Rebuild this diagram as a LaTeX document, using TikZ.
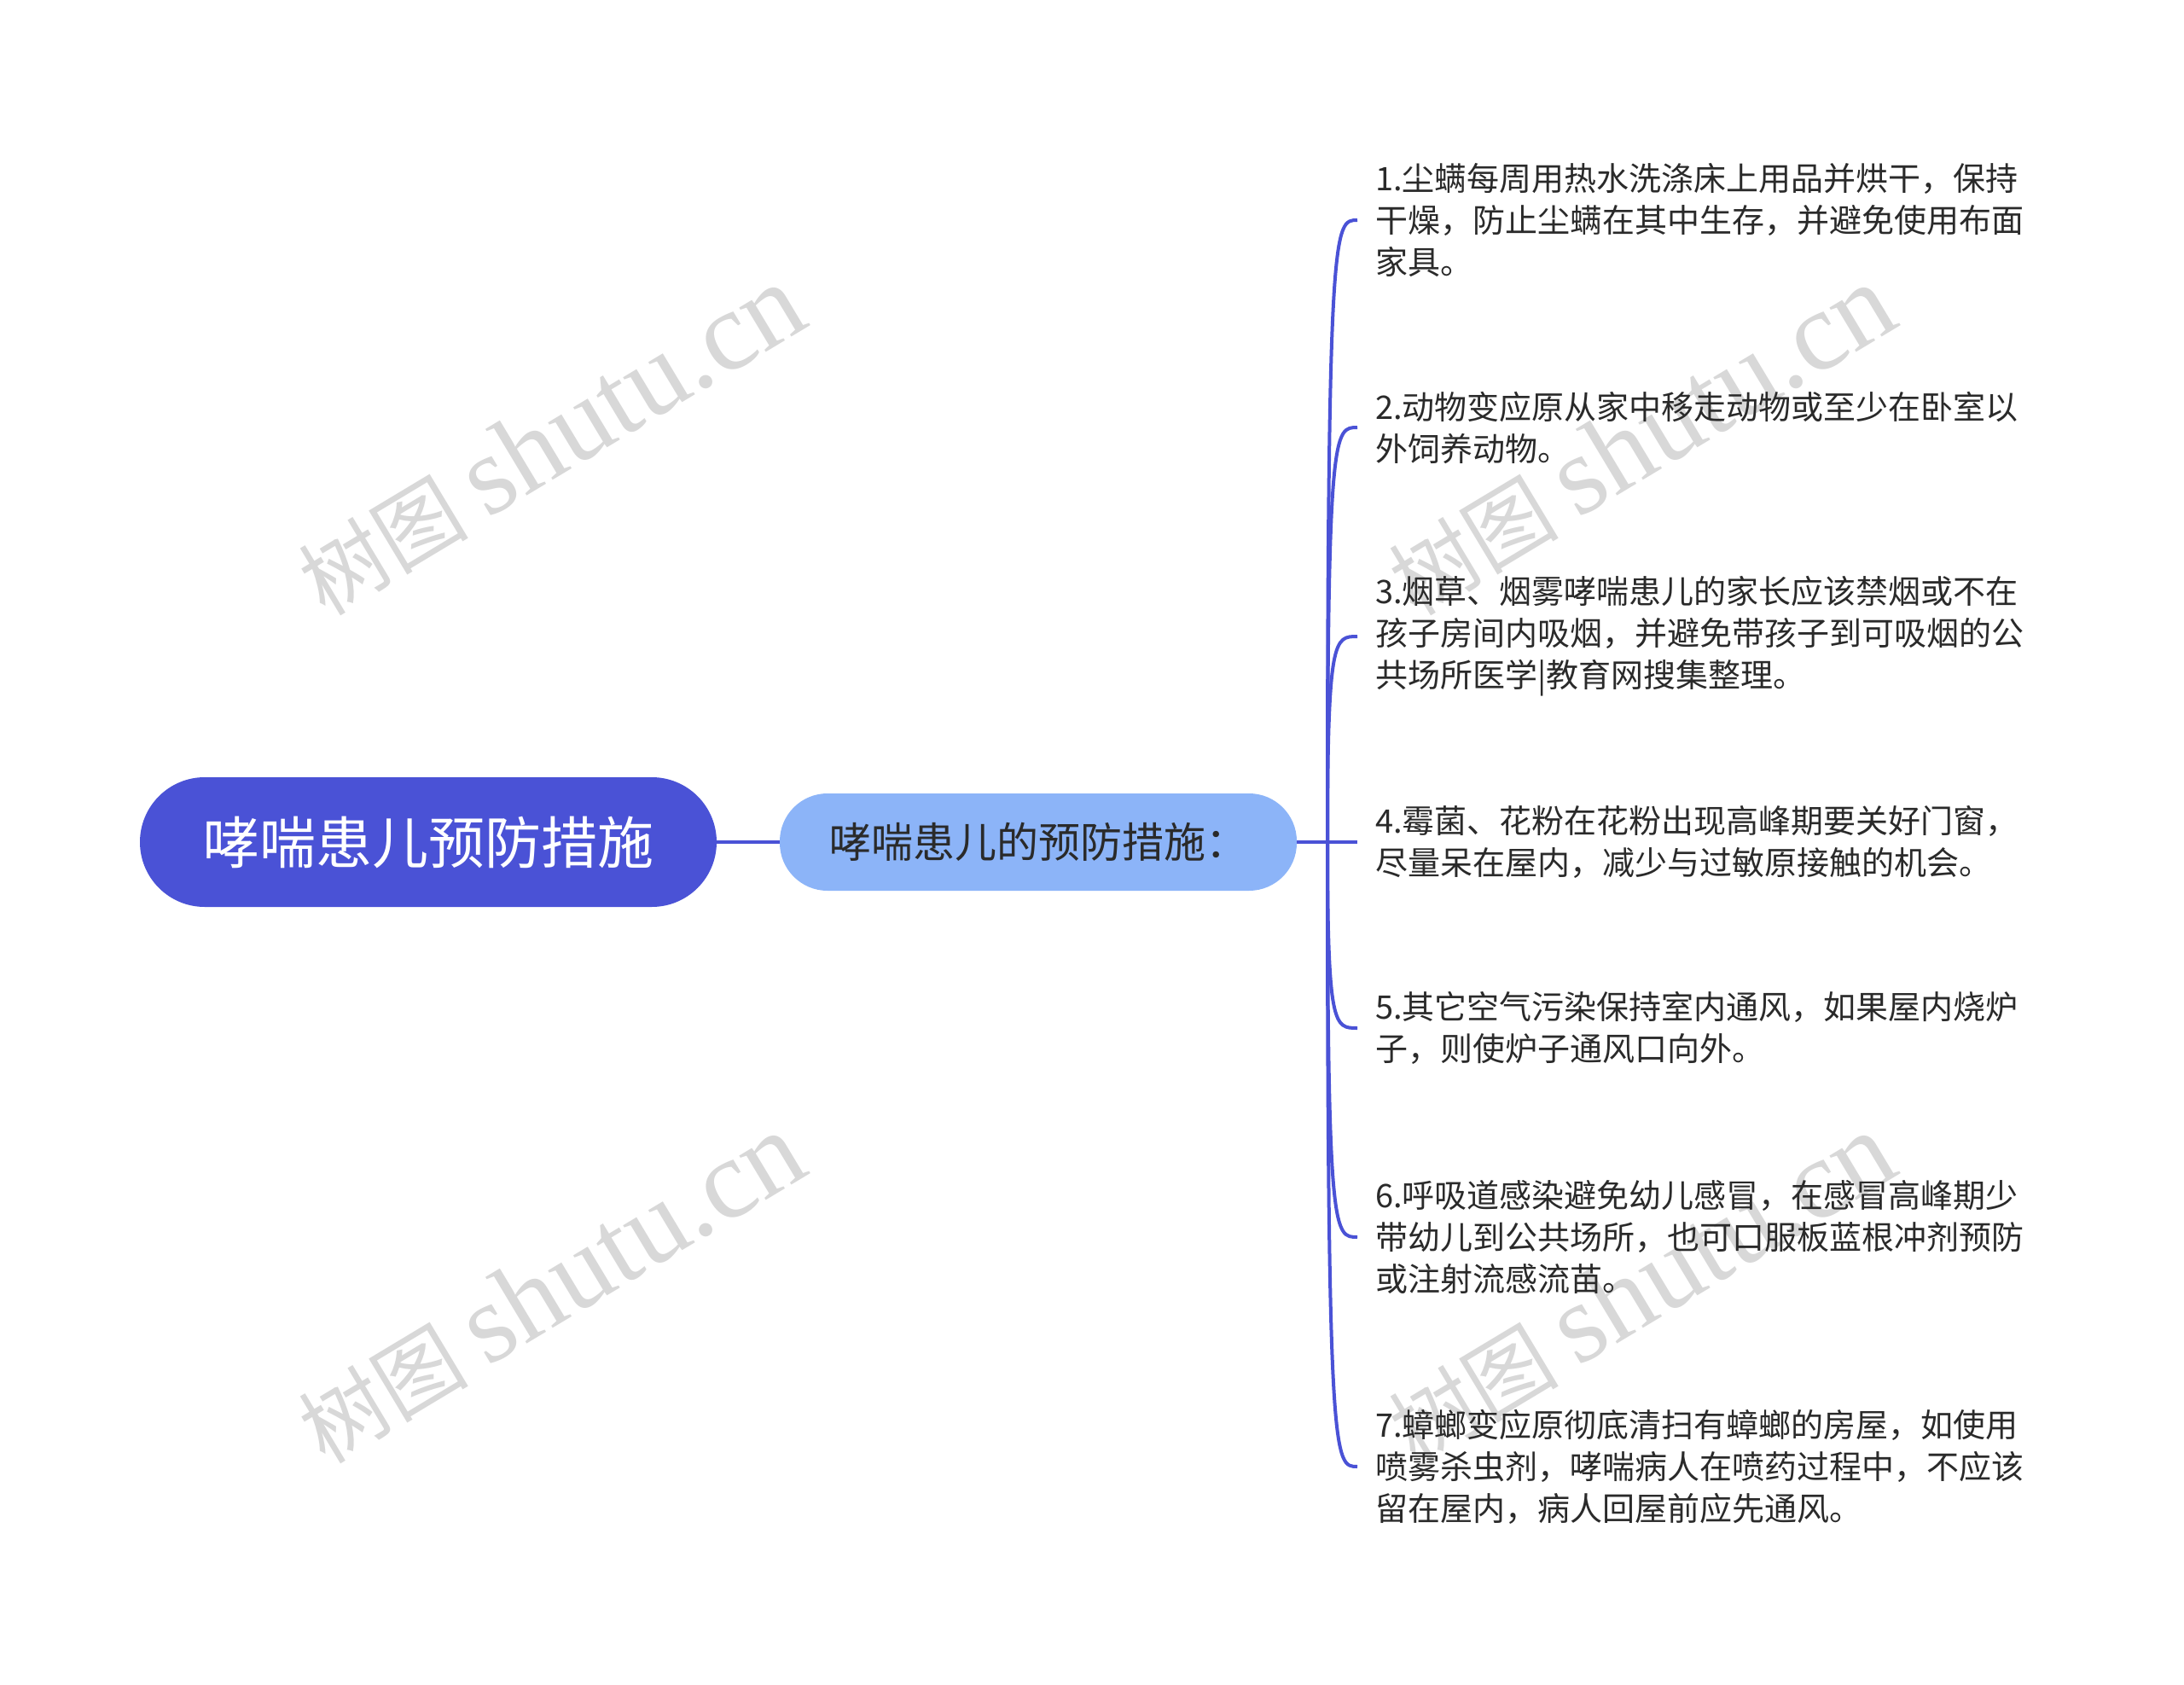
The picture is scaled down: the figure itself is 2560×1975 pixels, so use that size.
\documentclass[tikz,border=0pt]{standalone}
\usepackage{fontspec}
\setmainfont{Noto Sans CJK SC}
\newfontfamily\wmfont{Liberation Serif}
\usetikzlibrary{calc}
\definecolor{rootblue}{HTML}{4A52D6}
\definecolor{subblue}{HTML}{8CB4F8}
\definecolor{leaftext}{HTML}{2A2A2A}
\definecolor{wmgray}{HTML}{D8D8D8}
\tikzset{
  rootbox/.style={fill=rootblue, rounded corners=76pt, minimum width=676pt, minimum height=152pt, inner sep=0pt, text=white, font=\fontsize{66}{70}\selectfont},
  subbox/.style={fill=subblue, rounded corners=56pt, minimum width=606pt, minimum height=114pt, inner sep=0pt, text=leaftext, font=\fontsize{49}{52}\selectfont},
  leaf/.style={anchor=west, align=left, inner sep=0pt, text=leaftext, font=\fontsize{38}{49}\selectfont},
  branch/.style={draw=rootblue, line width=4pt},
  watermark/.style={rotate=31, text=wmgray, font=\fontsize{100}{100}\selectfont},
}
\newcommand{\wmtext}{树图 {\wmfont\fontsize{132}{132}\selectfont shutu.cn}}

\begin{document}
\begin{tikzpicture}[x=1pt,y=-1pt]
  %CANVAS
  \fill[white] (0,0) rectangle (2560,1975);
  \useasboundingbox (0,0) rectangle (2560,1975);
  %WATERMARKS
  \node[watermark] (wm1) at (645,516) {\wmtext};
  \node[watermark] (wm2) at (645,1510) {\wmtext};
  \node[watermark] (wm3) at (1923,516) {\wmtext};
  \node[watermark] (wm4) at (1923,1510) {\wmtext};
  %ROOT et SUB
  \node[rootbox] (root) at (502,987) {哮喘患儿预防措施};
  \node[subbox] (sub) at (1217,987) {哮喘患儿的预防措施：};
  %LEAVES
  \node[leaf] (l1) at (1612,258) {1.尘螨每周用热水洗涤床上用品并烘干，保持\\干燥，防止尘螨在其中生存，并避免使用布面\\家具。};
  \node[leaf] (l2) at (1612,501) {2.动物变应原从家中移走动物或至少在卧室以\\外饲养动物。};
  \node[leaf] (l3) at (1612,746) {3.烟草、烟雾哮喘患儿的家长应该禁烟或不在\\孩子房间内吸烟，并避免带孩子到可吸烟的公\\共场所医学|教育网搜集整理。};
  \node[leaf] (l4) at (1612,987) {4.霉菌、花粉在花粉出现高峰期要关好门窗，\\尽量呆在屋内，减少与过敏原接触的机会。};
  \node[leaf] (l5) at (1612,1205) {5.其它空气污染保持室内通风，如果屋内烧炉\\子，则使炉子通风口向外。};
  \node[leaf] (l6) at (1612,1450) {6.呼吸道感染避免幼儿感冒，在感冒高峰期少\\带幼儿到公共场所，也可口服板蓝根冲剂预防\\或注射流感流苗。};
  \node[leaf] (l7) at (1612,1719) {7.蟑螂变应原彻底清扫有蟑螂的房屋，如使用\\喷雾杀虫剂，哮喘病人在喷药过程中，不应该\\留在屋内，病人回屋前应先通风。};
  %HUB et TIPS
  \coordinate (hub) at (1556,987);
  \coordinate (t1) at ($(l1.west)+(-21,0)$);
  \coordinate (t2) at ($(l2.west)+(-21,0)$);
  \coordinate (t3) at ($(l3.west)+(-21,0)$);
  \coordinate (t4) at ($(l4.west)+(-21,0)$);
  \coordinate (t5) at ($(l5.west)+(-21,0)$);
  \coordinate (t6) at ($(l6.west)+(-21,0)$);
  \coordinate (t7) at ($(l7.west)+(-21,0)$);
  %CONNECTORS
  \draw[branch] (root) -- (sub);
  \draw[branch] (sub) -- (t4);
  \draw[branch] (hub) .. controls (hub |- t1) and ($(hub |- t1)+(8,0)$) .. (t1);
  \draw[branch] (hub) .. controls (hub |- t2) and ($(hub |- t2)+(8,0)$) .. (t2);
  \draw[branch] (hub) .. controls (hub |- t3) and ($(hub |- t3)+(8,0)$) .. (t3);
  \draw[branch] (hub) .. controls (hub |- t5) and ($(hub |- t5)+(8,0)$) .. (t5);
  \draw[branch] (hub) .. controls (hub |- t6) and ($(hub |- t6)+(8,0)$) .. (t6);
  \draw[branch] (hub) .. controls (hub |- t7) and ($(hub |- t7)+(8,0)$) .. (t7);
\end{tikzpicture}
\end{document}
